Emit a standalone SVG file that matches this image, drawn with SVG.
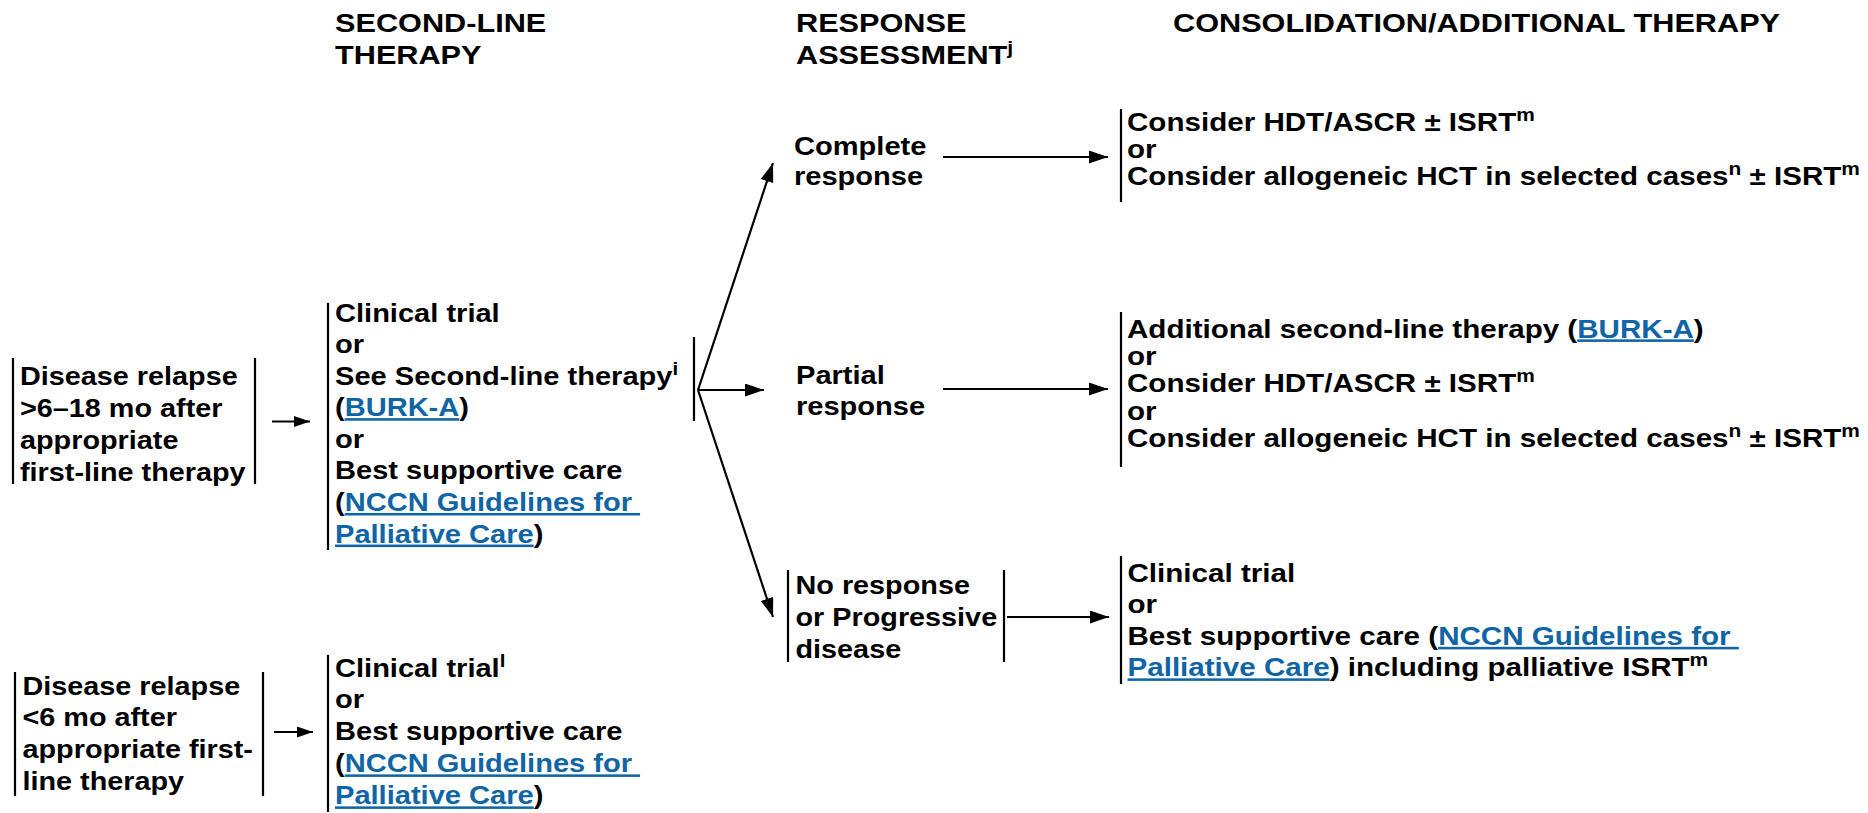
<svg xmlns="http://www.w3.org/2000/svg" width="1868" height="813" viewBox="0 0 1868 813">
<style>
  text { font-family: "Liberation Sans", Arial, Helvetica, sans-serif; font-weight: bold; font-size: 25.5px; fill: #000; white-space: pre; }
  .h { font-size: 26px; }
  .lk { fill: #0f65a5; text-decoration: underline; }
  .sup { font-size: 18px; }
  .bar { stroke: #000; stroke-width: 2.2; fill: none; }
  .conn line { stroke: #000; stroke-width: 2.2; fill: none; }
</style>
<defs>
  <marker id="ah" markerUnits="userSpaceOnUse" markerWidth="19" markerHeight="13" refX="19" refY="6.5" orient="auto">
    <path d="M0,0 L19,6.5 L0,13 z" fill="#000"/>
  </marker>
  <marker id="ahs" markerUnits="userSpaceOnUse" markerWidth="16" markerHeight="11" refX="16" refY="5.5" orient="auto">
    <path d="M0,0 L16,5.5 L0,11 z" fill="#000"/>
  </marker>
</defs>

<rect width="1868" height="813" fill="#fff"/>

<!-- Headers -->
<g id="hdr-second-line">
  <text class="h" transform="translate(335,32) scale(1.18,1)"><tspan x="0">SECOND-LINE</tspan><tspan x="0" dy="32">THERAPY</tspan></text>
</g>
<g id="hdr-response">
  <text class="h" transform="translate(796,32) scale(1.18,1)"><tspan x="0">RESPONSE</tspan><tspan x="0" dy="32">ASSESSMENT</tspan><tspan class="sup" dy="-10">j</tspan></text>
</g>
<g id="hdr-consolidation">
  <text class="h" transform="translate(1173,32) scale(1.18,1)">CONSOLIDATION/ADDITIONAL THERAPY</text>
</g>

<!-- Node: relapse 6-18 mo -->
<g id="n-relapse-late">
  <line class="bar" x1="13" y1="358" x2="13" y2="484"/>
  <line class="bar" x1="255" y1="358" x2="255" y2="484"/>
  <text transform="translate(20,385) scale(1.13,1)"><tspan x="0">Disease relapse</tspan><tspan x="0" dy="32">&gt;6–18 mo after</tspan><tspan x="0" dy="32">appropriate</tspan><tspan x="0" dy="32">first-line therapy</tspan></text>
</g>

<!-- Node: second-line therapy -->
<g id="n-second-line">
  <line class="bar" x1="328" y1="303" x2="328" y2="550"/>
  <line class="bar" x1="694" y1="337" x2="694" y2="421"/>
  <text transform="translate(335,321.5) scale(1.14,1)"><tspan x="0">Clinical trial</tspan><tspan x="0" dy="31.6">or</tspan><tspan x="0" dy="31.6">See Second-line therapy</tspan><tspan class="sup" dy="-10">i</tspan><tspan x="0" dy="41.6">(</tspan><tspan class="lk">BURK-A</tspan><tspan>)</tspan><tspan x="0" dy="31.6">or</tspan><tspan x="0" dy="31.6">Best supportive care</tspan><tspan x="0" dy="31.6">(</tspan><tspan class="lk">NCCN Guidelines for </tspan><tspan x="0" dy="31.6" class="lk">Palliative Care</tspan><tspan>)</tspan></text>
</g>

<!-- Node: relapse < 6 mo -->
<g id="n-relapse-early">
  <line class="bar" x1="15" y1="672" x2="15" y2="796"/>
  <line class="bar" x1="263" y1="672" x2="263" y2="796"/>
  <text transform="translate(22.5,694.5) scale(1.13,1)"><tspan x="0">Disease relapse</tspan><tspan x="0" dy="32">&lt;6 mo after</tspan><tspan x="0" dy="32">appropriate first-</tspan><tspan x="0" dy="32">line therapy</tspan></text>
</g>

<!-- Node: clinical trial / BSC for early relapse -->
<g id="n-early-options">
  <line class="bar" x1="328" y1="655" x2="328" y2="812"/>
  <text transform="translate(335,676.5) scale(1.14,1)"><tspan x="0">Clinical trial</tspan><tspan class="sup" dy="-10">l</tspan><tspan x="0" dy="42">or</tspan><tspan x="0" dy="32">Best supportive care</tspan><tspan x="0" dy="32">(</tspan><tspan class="lk">NCCN Guidelines for </tspan><tspan x="0" dy="32" class="lk">Palliative Care</tspan><tspan>)</tspan></text>
</g>

<!-- Response nodes -->
<g id="n-complete">
  <text transform="translate(794,154.5) scale(1.14,1)"><tspan x="0">Complete</tspan><tspan x="0" dy="31">response</tspan></text>
</g>
<g id="n-partial">
  <text transform="translate(796,384) scale(1.14,1)"><tspan x="0">Partial</tspan><tspan x="0" dy="31.5">response</tspan></text>
</g>
<g id="n-no-response">
  <line class="bar" x1="788" y1="570" x2="788" y2="662"/>
  <line class="bar" x1="1004" y1="570" x2="1004" y2="662"/>
  <text transform="translate(795.5,594) scale(1.13,1)"><tspan x="0">No response</tspan><tspan x="0" dy="32">or Progressive</tspan><tspan x="0" dy="32">disease</tspan></text>
</g>

<!-- Consolidation nodes -->
<g id="n-cons-complete">
  <line class="bar" x1="1121" y1="109" x2="1121" y2="202"/>
  <text transform="translate(1127,130.5) scale(1.16,1)"><tspan x="0">Consider HDT/ASCR ± ISRT</tspan><tspan class="sup" dy="-10">m</tspan><tspan x="0" dy="37.5">or</tspan><tspan x="0" dy="27.5">Consider allogeneic HCT in selected cases</tspan><tspan class="sup" dy="-10">n</tspan><tspan dy="10"> ± ISRT</tspan><tspan class="sup" dy="-10">m</tspan></text>
</g>
<g id="n-cons-partial">
  <line class="bar" x1="1121" y1="312" x2="1121" y2="467"/>
  <text transform="translate(1127,337.5) scale(1.16,1)"><tspan x="0">Additional second-line therapy (</tspan><tspan class="lk">BURK-A</tspan><tspan>)</tspan><tspan x="0" dy="27.5">or</tspan><tspan x="0" dy="27.5">Consider HDT/ASCR ± ISRT</tspan><tspan class="sup" dy="-10">m</tspan><tspan x="0" dy="37.5">or</tspan><tspan x="0" dy="27.5">Consider allogeneic HCT in selected cases</tspan><tspan class="sup" dy="-10">n</tspan><tspan dy="10"> ± ISRT</tspan><tspan class="sup" dy="-10">m</tspan></text>
</g>
<g id="n-cons-no-response">
  <line class="bar" x1="1121" y1="556" x2="1121" y2="684"/>
  <text transform="translate(1127.5,582) scale(1.16,1)"><tspan x="0">Clinical trial</tspan><tspan x="0" dy="31.5">or</tspan><tspan x="0" dy="31.5">Best supportive care (</tspan><tspan class="lk">NCCN Guidelines for </tspan><tspan x="0" dy="31.5" class="lk">Palliative Care</tspan><tspan>) including palliative ISRT</tspan><tspan class="sup" dy="-10">m</tspan></text>
</g>

<!-- Connectors -->
<g id="connectors" class="conn">
  <line x1="272" y1="421.5" x2="310" y2="421.5" marker-end="url(#ahs)"/>
  <line x1="274" y1="732" x2="313" y2="732" marker-end="url(#ahs)"/>
  <line x1="698" y1="390" x2="773" y2="163" marker-end="url(#ah)"/>
  <line x1="698" y1="390" x2="764" y2="390" marker-end="url(#ah)"/>
  <line x1="698" y1="390" x2="773" y2="617" marker-end="url(#ah)"/>
  <line x1="943" y1="157" x2="1108" y2="157" marker-end="url(#ah)"/>
  <line x1="943" y1="389" x2="1108" y2="389" marker-end="url(#ah)"/>
  <line x1="1007" y1="617" x2="1109" y2="617" marker-end="url(#ah)"/>
</g>
</svg>
